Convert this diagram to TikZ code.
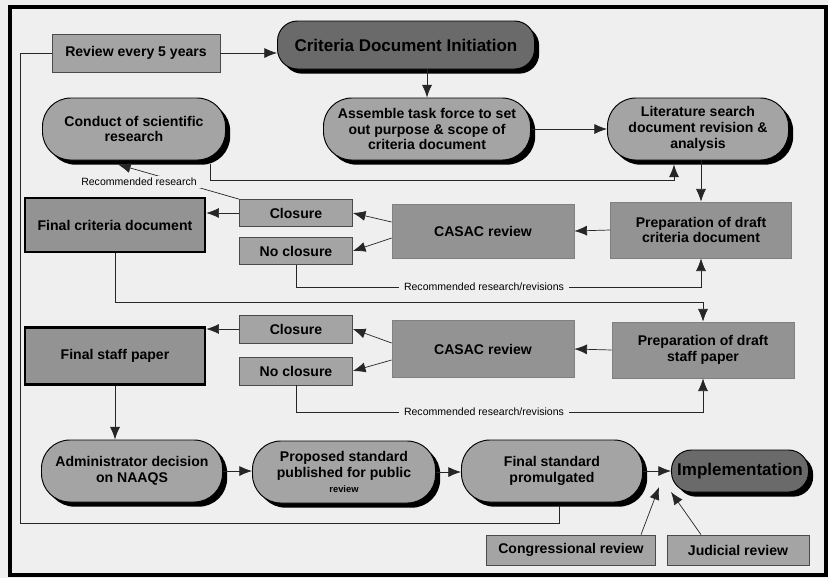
\documentclass[tikz,border=0pt]{standalone}
\usepackage{fontspec}
\setmainfont{Liberation Sans}
\usetikzlibrary{calc,arrows.meta,shadows}

\definecolor{bgfill}{HTML}{EFEFEF}
\definecolor{lightfill}{HTML}{A4A4A4}
\definecolor{midfill}{HTML}{939393}
\definecolor{darkfill}{HTML}{6A6A6A}
\definecolor{edgegray}{HTML}{4A4A4A}

\begin{document}
\begin{tikzpicture}[x=0.03cm,y=-0.03cm,
                    boxsize/.style 2 args={minimum width=#1*0.03cm,minimum height=#2*0.03cm},
                    txt/.style={font=\fontsize{12}{13.5}\selectfont\bfseries,align=center,inner sep=1pt},
                    plainbox/.style={txt,rectangle,fill=lightfill,draw=edgegray,line width=0.6pt},
                    reviewbox/.style={txt,rectangle,fill=midfill,draw=gray,line width=0.6pt},
                    finalbox/.style={txt,rectangle,fill=midfill,draw=black,line width=2.2pt},
                    pill/.style={txt,rectangle,rounded corners=0.85cm,fill=lightfill,draw=black,line width=0.8pt,
                                 drop shadow={shadow xshift=0.14cm,shadow yshift=-0.14cm,fill=black,opacity=1}},
                    darkpill/.style={pill,rounded corners=0.6cm,fill=darkfill,font=\fontsize{14.5}{16}\selectfont\bfseries},
                    link/.style={line width=0.6pt,draw=black!85},
                    arr/.style={link,-{Latex[length=3.8mm,width=3mm]}},
                    note/.style={font=\fontsize{9}{10}\selectfont,fill=bgfill,inner sep=2pt,inner xsep=4pt}]
  \path[use as bounding box] (0,0) rectangle (828,578);
  \fill[bgfill] (0,0) rectangle (828,578);
  \draw[line width=3.4pt] (10,7) rectangle (826,575);

  % top row
  \node[plainbox,boxsize={168}{38}] (review) at (136,53) {Review every 5 years};
  \node[darkpill,boxsize={257}{48}] (init) at (406,45) {Criteria Document Initiation};
  \node[pill,boxsize={183}{62}] (conduct) at (134,129) {Conduct of scientific\\research};
  \node[pill,boxsize={207}{62}] (assemble) at (427,129) {Assemble task force to set\\out purpose \& scope of\\criteria document};
  \node[pill,boxsize={181}{62}] (lit) at (698,129) {Literature search\\document revision \&\\analysis};

  % criteria document review
  \node[finalbox,boxsize={180}{54}] (critdoc) at (115,225) {Final criteria document};
  \node[plainbox,boxsize={113}{27}] (close1) at (296,213) {Closure};
  \node[plainbox,boxsize={113}{27}] (noclose1) at (296,251) {No closure};
  \node[reviewbox,boxsize={182}{54}] (casac1) at (483,231) {CASAC review};
  \node[reviewbox,boxsize={181}{56}] (draftdoc) at (701,230) {Preparation of draft\\criteria document};

  % staff paper review
  \node[finalbox,boxsize={180}{57}] (staffpaper) at (115,356) {Final staff paper};
  \node[plainbox,boxsize={113}{28}] (close2) at (296,329) {Closure};
  \node[plainbox,boxsize={113}{28}] (noclose2) at (296,371) {No closure};
  \node[reviewbox,boxsize={182}{57}] (casac2) at (483,349) {CASAC review};
  \node[reviewbox,boxsize={182}{56}] (draftpaper) at (703,350) {Preparation of draft\\staff paper};

  % standard setting
  \node[pill,boxsize={181}{62}] (decision) at (132,471) {Administrator decision\\on NAAQS};
  \node[pill,boxsize={183}{62}] (proposed) at (344,472) {Proposed standard\\published for public\\{\fontsize{8}{9}\selectfont review}};
  \node[pill,boxsize={181}{62}] (promulgated) at (552,471) {Final standard\\promulgated};
  \node[darkpill,boxsize={137}{42}] (implement) at (740,471) {Implementation};
  \node[plainbox,boxsize={169}{30}] (congress) at (571,550) {Congressional review};
  \node[plainbox,boxsize={142}{30}] (judicial) at (738,550) {Judicial review};

  \draw[arr] (review.east) -- (review.east -| init.west);
  \draw[arr] (init.south -| assemble.north) -- (assemble.north);
  \draw[arr] (assemble.east) -- (lit.west);
  \draw[arr] ($(conduct.south)+(76,4)$) |- ($(lit.south)+(-24,20)$) -- ($(lit.south)+(-24,4)$);
  \draw[arr] (lit.south -| draftdoc.north) -- (draftdoc.north);

  \draw[arr] (draftdoc.west) -- (casac1.east);
  \draw[arr] ($(casac1.west)+(0,-9)$) -- (close1.east);
  \draw[arr] ($(casac1.west)+(0,7)$) -- (noclose1.east);
  \draw[arr] (close1.west) -- (close1.west -| critdoc.east);
  \draw[arr] (close1.north west) -- ($(conduct.south)+(-16,4)$);
  \node[note] (recres) at (139,182) {Recommended research};
  \draw[arr] (noclose1.south) |- ($(draftdoc.south)+(0,29)$) -- (draftdoc.south);
  \node[note] (recrev1) at (484,287) {Recommended research/revisions};
  \draw[arr] (critdoc.south) |- ($(draftpaper.north)+(0,-19)$) -- (draftpaper.north);

  \draw[arr] (draftpaper.west) -- (casac2.east);
  \draw[arr] ($(casac2.west)+(0,-6)$) -- (close2.east);
  \draw[arr] ($(casac2.west)+(0,11)$) -- (noclose2.east);
  \draw[arr] (close2.west) -- (close2.west -| staffpaper.east);
  \draw[arr] (noclose2.south) |- ($(draftpaper.south)+(0,34)$) -- (draftpaper.south);
  \node[note] (recrev2) at (484,412) {Recommended research/revisions};
  \draw[arr] (staffpaper.south) -- (staffpaper.south |- decision.north);

  \draw[arr] (decision.east) -- (decision.east -| proposed.west);
  \draw[arr] (proposed.east) -- (proposed.east -| promulgated.west);
  \draw[arr] (promulgated.east) -- (implement.west);
  \draw[arr] ($(congress.north)+(70,0)$) -- ($(implement.west)+(-12,16)$);
  \draw[arr] ($(judicial.north)+(-37,0)$) -- ($(implement.west)+(0,21)$);

  % back to the start every 5 years
  \coordinate (loopcorner) at (20,523);
  \draw[link] ($(promulgated.south)+(7,4)$) |- (loopcorner) |- (review.west);
\end{tikzpicture}
\end{document}
